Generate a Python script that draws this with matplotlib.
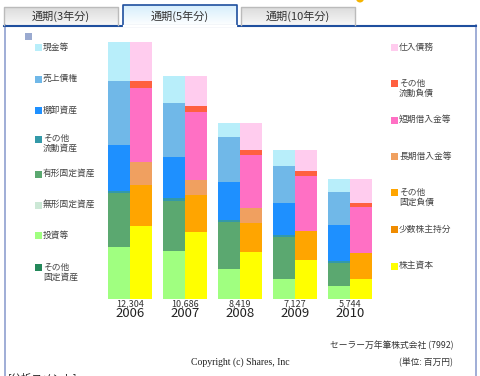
import matplotlib
matplotlib.use("Agg")
import matplotlib.pyplot as plt
from matplotlib.patches import Rectangle, Circle
import numpy as np

plt.rcParams['font.family'] = ['Noto Sans CJK JP', 'DejaVu Sans']

# ---------------- data (million yen) ----------------
years = ['2006', '2007', '2008', '2009', '2010']
totals = [12304, 10686, 8419, 7127, 5744]

asset_names = ['現金等', '売上債権', '棚卸資産', 'その他\n流動資産', '有形固定資産',
               '無形固定資産', '投資等', 'その他\n固定資産']
asset_colors = ['#B8EEFA', '#70B8E8', '#1E90FF', '#3399A8', '#5BA870',
                '#CCE8D6', '#A0FF80', '#23885A']
cash = [1895, 1306, 670, 751, 608]
receivables = [3033, 2584, 2139, 1770, 1593]
inventory = [2201, 1976, 1818, 1545, 1722]
other_current = [124, 129, 129, 81, 81]
tangible = [2555, 2407, 2230, 2038, 1100]
intangible = [0, 0, 0, 0, 0]
investments = [2496, 2284, 1433, 942, 640]
other_fixed = [0, 0, 0, 0, 0]
assets = [cash, receivables, inventory, other_current, tangible,
          intangible, investments, other_fixed]

liab_names = ['仕入債務', 'その他\n流動負債', '短期借入金等', '長期借入金等',
              'その他\n固定負債', '少数株主持分', '株主資本']
liab_colors = ['#FFCCEE', '#FF6040', '#FF70C4', '#F0A060', '#FFA500',
               '#F08C00', '#FFFF00']
payables = [1895, 1464, 1278, 1019, 1134]
other_cur_liab = [321, 273, 254, 211, 220]
short_debt = [3526, 3239, 2536, 2646, 2201]
long_debt = [1100, 718, 718, 0, 0]
other_fixed_liab = [1990, 1799, 1388, 1388, 1215]
minority = [0, 0, 0, 0, 0]
equity = [3472, 3193, 2245, 1863, 974]
liabs = [payables, other_cur_liab, short_debt, long_debt,
         other_fixed_liab, minority, equity]

tabs = ['通期(3年分)', '通期(5年分)', '通期(10年分)']

# ---------------- figure ----------------
W, H = 480, 376
fig = plt.figure(figsize=(W / 100, H / 100), dpi=100)
fig.patch.set_facecolor('white')

# overlay axes in pixel coordinates for the page decorations
ov = fig.add_axes([0, 0, 1, 1])
ov.set_xlim(0, W)
ov.set_ylim(H, 0)
ov.axis('off')

# frame
ov.plot([4.5, 4.5], [25, H], color='#8FA0CF', lw=1.2)
ov.plot([475.5, 475.5], [25, H], color='#8FA0CF', lw=1.2)
ov.plot([4, 476], [25.5, 25.5], color='#1F4F9E', lw=1.5)

# little icon peeking at the top
ov.add_patch(Circle((360, -1.5), 4, color='#F5B400', lw=0, clip_on=True))

# tabs
tab_x = [(4, 118), (123, 237), (241, 355)]
grad = np.linspace(0, 1, 20).reshape(-1, 1)
for i, (x0, x1) in enumerate(tab_x):
    if i == 1:
        cm = matplotlib.colors.LinearSegmentedColormap.from_list('g1', ['#D6EEFC', '#FFFFFF'])
        ov.imshow(grad, extent=(x0, x1, 26, 5), cmap=cm, aspect='auto', zorder=1)
        ov.plot([x0, x0, x1, x1], [26, 5, 5, 26], color='#1F4F9E', lw=1.2, zorder=2)
        ov.plot([x0 + 1, x1 - 1], [25.5, 25.5], color='white', lw=1.6, zorder=3)
    else:
        cm = matplotlib.colors.LinearSegmentedColormap.from_list('g2', ['#DCDCDC', '#F6F6F6'])
        ov.imshow(grad, extent=(x0, x1, 25, 7), cmap=cm, aspect='auto', zorder=1)
        ov.plot([x0, x0, x1, x1], [25, 7, 7, 25], color='#BBBBBB', lw=1, zorder=2)
    ov.text((x0 + x1) / 2, 16.5, tabs[i], ha='center', va='center',
            fontsize=8, color='#333333', zorder=4)
ov.set_xlim(0, W)
ov.set_ylim(H, 0)

# small square top-left
ov.add_patch(Rectangle((25, 33), 7, 7, color='#9AAAD0', lw=0))

# left legend
left_y = [47.3, 79, 110.3, 139, 174, 205, 235.7, 267.3]
for name, col, y in zip(asset_names, asset_colors, left_y):
    ov.add_patch(Rectangle((35, y - 3.5), 7, 7, color=col, lw=0))
    ov.text(43, y - 4.8, name, ha='left', va='top', fontsize=6.3,
            color='#444444', linespacing=1.15)

# right legend
right_y = [47.3, 83.3, 120, 156.7, 192.7, 229.3, 266]
for name, col, y in zip(liab_names, liab_colors, right_y):
    ov.add_patch(Rectangle((390.5, y - 3.5), 7, 7, color=col, lw=0))
    ov.text(399, y - 4.8, name, ha='left', va='top', fontsize=6.3,
            color='#444444', linespacing=1.15)

# footer text
ov.text(453, 345, 'セーラー万年筆株式会社 (7992)', ha='right', va='center',
        fontsize=6.3, color='#333333')
ov.text(453, 362, '(単位: 百万円)', ha='right', va='center',
        fontsize=6.3, color='#333333')
ov.text(240, 362, 'Copyright (c) Shares, Inc', ha='center', va='center',
        fontsize=7, color='#222222', family='Liberation Serif')
ov.text(8, 378, '[分析コメント]', ha='left', va='center',
        fontsize=7.5, color='#222222')

# ---------------- chart axes ----------------
px_per_unit = 20.9 / 1000.0
base_px = 299           # baseline pixel row (from top)
top_px = 30
ax_left, ax_right = 75, 405
ax = fig.add_axes([ax_left / W, (H - base_px) / H,
                   (ax_right - ax_left) / W, (base_px - top_px) / H])
ax.set_xlim(-1, 5)
ax.set_ylim(0, (base_px - top_px) / px_per_unit)
ax.axis('off')
ax.patch.set_alpha(0)

x = np.arange(len(years))
bw = 0.4
# assets stacked bottom-up (reverse of legend order)
bottom = np.zeros(len(years))
for vals, col in zip(reversed(assets), reversed(asset_colors)):
    ax.bar(x - bw / 2, vals, bw, bottom=bottom, color=col, lw=0)
    bottom += np.array(vals)
bottom = np.zeros(len(years))
for vals, col in zip(reversed(liabs), reversed(liab_colors)):
    ax.bar(x + bw / 2, vals, bw, bottom=bottom, color=col, lw=0)
    bottom += np.array(vals)

u = 1 / px_per_unit
for xi, t, yr in zip(x, totals, years):
    ax.text(xi, -4.5 * u, f'{t:,}', ha='center', va='center', fontsize=6.5,
            color='#333333', clip_on=False)
    ax.text(xi, -14.5 * u, yr, ha='center', va='center', fontsize=9.5,
            color='#222222', clip_on=False)

fig.savefig('out.png', dpi=100, facecolor='white')
